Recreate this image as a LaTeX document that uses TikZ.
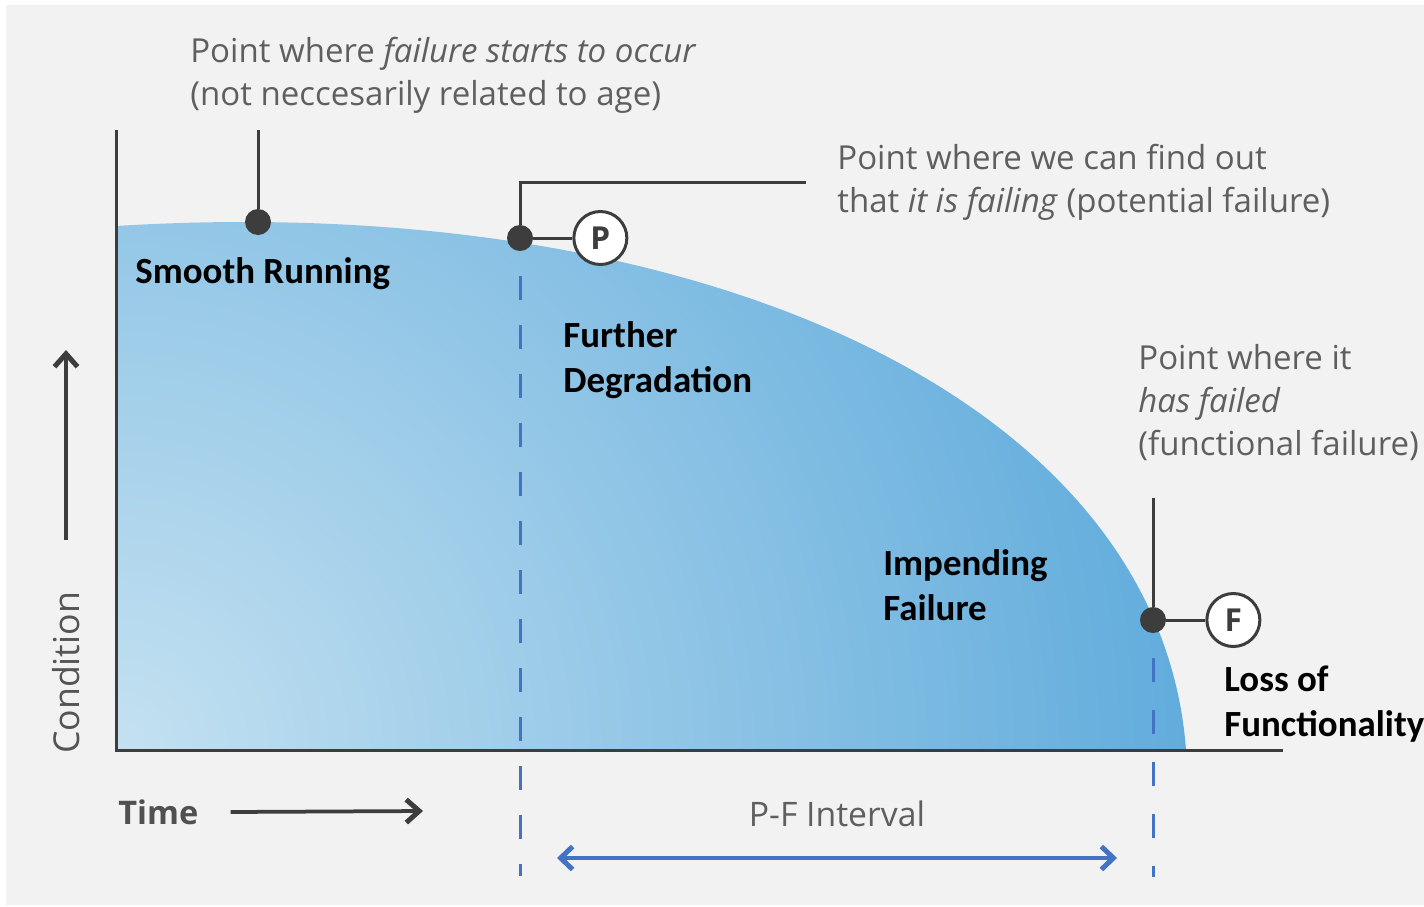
\documentclass[tikz,border=0pt]{standalone}
\usepackage{fontspec}
\setmainfont{Open Sans}
\newfontfamily\calfont{Carlito}
\usepackage{tikz}
\usetikzlibrary{arrows.meta,calc,positioning}
\definecolor{bggray}{HTML}{F2F2F2}
\definecolor{axisgray}{HTML}{3D3D3D}
\definecolor{txtgray}{HTML}{5F5F5F}
\definecolor{pfblue}{HTML}{4472C4}
\definecolor{curvelight}{HTML}{C4E1F1}
\definecolor{curvedark}{HTML}{58A7DA}
\tikzset{PF style/.style={every node/.append style={inner sep=0pt}},
	note/.style={text=txtgray,align=left,font=\fontsize{18.8}{24.5}\selectfont},
	phase/.style={text=black,align=left,font=\calfont\bfseries\fontsize{21}{25.5}\selectfont},
	dot/.style={circle,fill=axisgray,minimum size=5.2mm},
	pfring/.style={circle,draw=axisgray,line width=0.6mm,fill=white,minimum size=10.6mm,text=axisgray,font=\bfseries\fontsize{18}{18}\selectfont},
	pfdash/.style={pfblue,line width=0.6mm,dash pattern=on 4.8mm off 5mm},
	stem/.style={axisgray,line width=0.6mm},
	axarrow/.style={axisgray,line width=0.75mm,-{Straight Barb[length=2.6mm,width=4.6mm,line width=1mm]}},
	pfarrow/.style={pfblue,line width=0.75mm,{Straight Barb[length=2.4mm,width=4.6mm,line width=1mm]}-{Straight Barb[length=2.4mm,width=4.6mm,line width=1mm]}}}

\begin{document}
\begin{tikzpicture}[PF style,x=0.2mm,y=-0.2mm]
	\useasboundingbox (0,0) rectangle (1424,906);
	\fill[white] (0,0) rectangle (1424,906);
	\fill[bggray] (6,5) rectangle (1424,905);
	
	% condition curve, shaded out from the origin
	\begin{scope}
		\clip (116,750) -- (116,226) .. controls (700,190) and (1160,400) .. (1186,750) -- cycle;
		\shade[inner color=curvelight,outer color=curvedark] (116,750) circle (235mm);
	\end{scope}
	
	\node[dot] (Sdot) at (258,222) {};
	\node[dot] (Pdot) at (520,238) {};
	\node[dot] (Fdot) at (1153,620) {};
	
	\coordinate (Stop) at (258,130);
	\coordinate (Ftop) at (1153,498);
	\coordinate (Pend) at (520,876);
	\coordinate (Fend) at (1153,877);
	
	\draw[pfdash] ([yshift=-5mm]Pdot.south) -- (Pend);
	\draw[pfdash,dash pattern=on 4.8mm off 5.6mm] ([yshift=-5mm]Fdot.south) -- (Fend);
	
	% axes
	\draw[stem] (116,130) -- (116,750) -- (1283,750);
	
	\node[pfring, right=7.8mm of Pdot] (Pring) {P};
	\node[pfring, right=7.8mm of Fdot] (Fring) {F};
	
	\node[note,anchor=west] (Ttop) at (190,75) {Point where \textit{failure starts to occur}\\(not neccesarily related to age)};
	\node[note,anchor=west] (Ptxt) at (837,182) {Point where we can find out\\that \textit{it is failing} (potential failure)};
	\node[note,anchor=west] (Ftxt) at (1138,403) {Point where it\\\textit{has failed}\\(functional failure)};
	
	\node[phase,anchor=west] (Smooth) at (135,274) {Smooth Running};
	\node[phase,anchor=west] (Further) at (563,360) {Further\\Degradation};
	\node[phase,anchor=west] (Impend) at (883,585) {Impending\\Failure};
	\node[phase,anchor=west] (Loss) at (1224,704) {Loss of\\Functionality};
	
	\draw[stem] (Stop) -- (Sdot);
	\draw[stem] (Ftop) -- (Fdot);
	\draw[stem] (Pdot) |- ([xshift=-6.2mm]Ptxt.west);
	\draw[stem] (Pdot) -- (Pring);
	\draw[stem] (Fdot) -- (Fring);
	
	% axis labels
	\node[note,anchor=west,text=axisgray!90,font=\bfseries\fontsize{18.5}{18.5}\selectfont] (Time) at (118,812) {Time};
	\coordinate (Tend) at (423,811);
	\draw[axarrow] ([xshift=6.4mm]Time.east) -- (Tend);
	
	\node[note,rotate=90,text=txtgray!90!black,font=\fontsize{20.3}{20.3}\selectfont] (Cond) at (66,673) {Condition};
	\coordinate (Ctip) at (66,350);
	\draw[axarrow] ([yshift=10.4mm]Cond.east) -- (Ctip);
	
	% P-F interval
	\node[note,font=\fontsize{19.2}{19.2}\selectfont] (PF) at (837,814) {P-F Interval};
	\coordinate (PFl) at (557,858);
	\coordinate (PFr) at (1117,858);
	\draw[pfarrow] (PFl) -- (PFr);
\end{tikzpicture}
\end{document}
